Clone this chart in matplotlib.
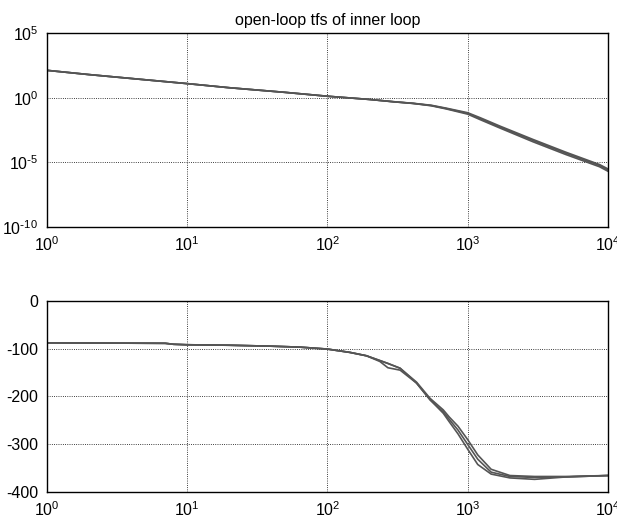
import numpy as np
import matplotlib as mpl
import matplotlib.pyplot as plt
from matplotlib.ticker import FuncFormatter

mpl.rcParams['font.family'] = ['Liberation Sans', 'DejaVu Sans']
mpl.rcParams['mathtext.default'] = 'regular'
mpl.rcParams['axes.unicode_minus'] = False

# frequency points (rad/s)
f_mag = [1, 2, 5, 10, 20, 50, 100, 200, 295, 410, 550, 700, 1000, 1230, 1700, 2900, 5000, 8700, 10000]
# log10 of magnitude, three overlapping runs
mag_a = [2.13, 1.8, 1.4, 1.1, 0.78, 0.42, 0.12, -0.13, -0.31, -0.44, -0.6, -0.83, -1.21, -1.62, -2.27, -3.3, -4.3, -5.25, -5.6]
mag_b = [2.13, 1.8, 1.4, 1.1, 0.78, 0.42, 0.12, -0.13, -0.31, -0.44, -0.62, -0.86, -1.27, -1.7, -2.35, -3.4, -4.4, -5.35, -5.7]
mag_c = [2.13, 1.8, 1.4, 1.1, 0.78, 0.42, 0.12, -0.13, -0.3, -0.43, -0.58, -0.8, -1.16, -1.55, -2.2, -3.22, -4.22, -5.18, -5.52]

f_ph = [1, 7, 8, 10, 20, 40, 64, 100, 145, 190, 237, 270, 330, 432, 540, 670, 740, 853, 1000, 1180, 1470, 2000, 3000, 5000, 10000]
ph_a = [-88, -89, -91, -92, -93, -95, -97, -101, -108, -115, -125, -131, -141, -172, -207, -232, -248, -270, -300, -331, -358, -367, -369, -368, -365]
ph_b = [-88, -89, -91, -92, -93, -95, -97, -101, -108, -115, -127, -140, -145, -172, -207, -235, -253, -278, -310, -342, -362, -370, -373, -368, -365]
ph_c = [-88, -89, -91, -92, -93, -95, -97, -101, -108, -115, -125, -131, -141, -170, -204, -228, -243, -262, -290, -322, -352, -365, -367, -367, -365]

line_col = '#555555'


def pow10(v, pos):
    e = int(round(np.log10(v)))
    if e < 0:
        return r'$10^{\text{-}%d}$' % (-e)
    return r'$10^{%d}$' % e


fig = plt.figure(figsize=(6.17, 5.29), dpi=100)
ax1 = fig.add_axes([0.0757, 0.5715, 0.9097, 0.3655])
ax2 = fig.add_axes([0.0757, 0.0694, 0.9097, 0.3622])

for m in (mag_a, mag_b, mag_c):
    ax1.loglog(f_mag, 10.0 ** np.array(m), color=line_col, lw=1.2)
ax1.set_xlim(1, 1e4)
ax1.set_ylim(1e-10, 1e5)
ax1.set_yticks([1e-10, 1e-5, 1, 1e5])
ax1.set_xticks([1, 10, 100, 1000, 10000])
ax1.yaxis.set_major_formatter(FuncFormatter(pow10))
ax1.set_title('open-loop tfs of inner loop', fontsize=11.5, pad=6)

for p in (ph_a, ph_b, ph_c):
    ax2.semilogx(f_ph, p, color=line_col, lw=1.2)
ax2.set_xlim(1, 1e4)
ax2.set_ylim(-400, 0)
ax2.set_yticks([-400, -300, -200, -100, 0])
ax2.set_xticks([1, 10, 100, 1000, 10000])

for ax in (ax1, ax2):
    ax.xaxis.set_major_formatter(FuncFormatter(pow10))
    ax.minorticks_off()
    ax.grid(True, which='major', color='k', linestyle=':', lw=0.6)
    ax.tick_params(direction='in', length=0, labelsize=11.5, pad=6)
    for s in ax.spines.values():
        s.set_linewidth(1.0)

plt.savefig('out.png', dpi=100)
